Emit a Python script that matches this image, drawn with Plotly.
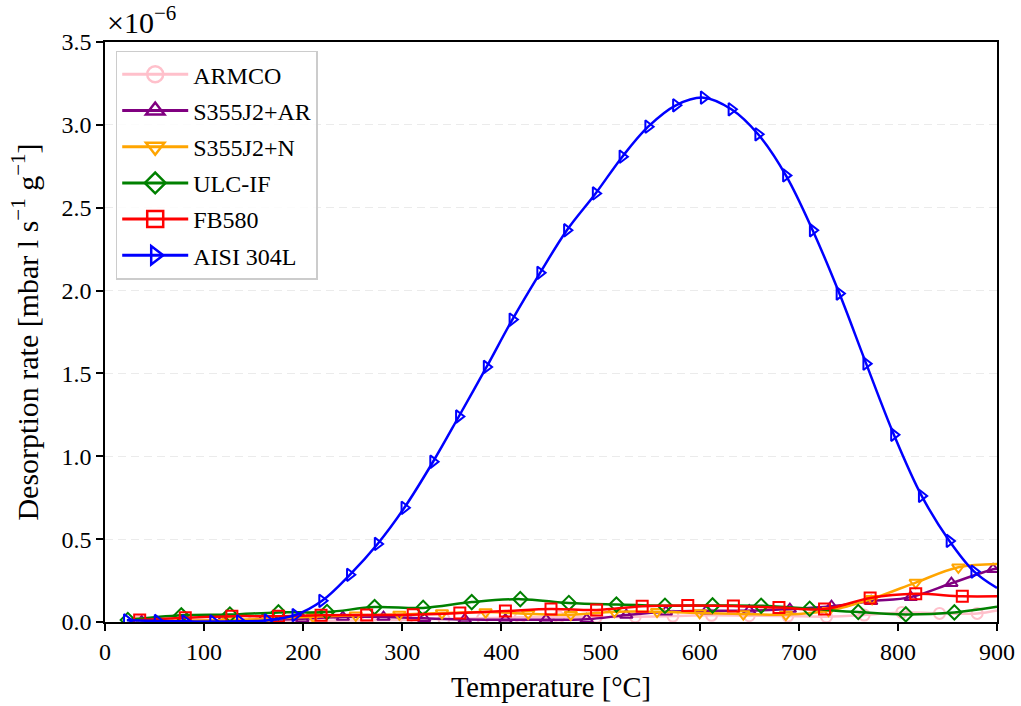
import plotly.graph_objects as go

# Thermal desorption spectra: temperature [°C] vs desorption rate [1e-6 mbar l s^-1 g^-1].
# The last sample of every sweep (900 °C) is the end of the ramp and carries no marker.

ARMCO_T = [34, 73, 111, 150, 188, 227, 265, 304, 342, 381, 419, 458, 496, 535, 573,
           612, 650, 689, 728, 766, 804, 842, 880, 900]
ARMCO_RATE = [0.002, 0.003, 0.004, 0.005, 0.006, 0.008, 0.010, 0.014, 0.018, 0.022, 0.028,
              0.030, 0.030, 0.032, 0.036, 0.040, 0.038, 0.036, 0.032, 0.042, 0.058, 0.052,
              0.052, 0.070]

S355AR_T = [37, 77, 118, 159, 199, 240, 281, 322, 363, 404, 445, 486, 526, 566, 607,
            650, 691, 733, 773, 813, 854, 896, 900]
S355AR_RATE = [0.003, 0.005, 0.008, 0.012, 0.020, 0.030, 0.030, 0.022, 0.015, 0.014, 0.014,
               0.016, 0.042, 0.062, 0.068, 0.068, 0.078, 0.095, 0.125, 0.150, 0.234, 0.318,
               0.322]

S355N_T = [37, 80, 124, 167, 210, 253, 297, 340, 384, 427, 470, 514, 557, 600, 644,
           687, 730, 774, 818, 861, 900]
S355N_RATE = [0.005, 0.008, 0.012, 0.020, 0.032, 0.040, 0.046, 0.054, 0.060, 0.050, 0.044,
              0.062, 0.062, 0.055, 0.048, 0.045, 0.068, 0.140, 0.238, 0.330, 0.350]

ULCIF_T = [23, 77, 126, 175, 224, 272, 321, 370, 419, 468, 516, 565, 613, 662, 711,
           760, 808, 857, 900]
ULCIF_RATE = [0.012, 0.040, 0.045, 0.058, 0.060, 0.090, 0.085, 0.120, 0.138, 0.115, 0.105,
              0.098, 0.100, 0.098, 0.080, 0.060, 0.046, 0.058, 0.092]

FB580_T = [35, 81, 128, 175, 218, 264, 311, 358, 404, 450, 496, 542, 588, 634, 680,
           726, 772, 818, 865, 900]
FB580_RATE = [0.012, 0.025, 0.035, 0.035, 0.040, 0.042, 0.044, 0.054, 0.066, 0.079, 0.072,
              0.095, 0.100, 0.097, 0.087, 0.078, 0.145, 0.170, 0.155, 0.155]

AISI304L_T = [22, 53, 81, 109, 136, 164, 192, 219, 247, 275, 302, 331, 357, 385, 411,
              439, 466, 495, 522, 548, 576, 604, 632, 659, 687, 714, 741, 768, 796, 824,
              852, 877, 900]
AISI304L_RATE = [0.010, 0.006, 0.004, 0.003, 0.004, 0.010, 0.042, 0.128, 0.285, 0.471,
                 0.689, 0.967, 1.240, 1.539, 1.825, 2.107, 2.364, 2.586, 2.808, 2.989,
                 3.118, 3.164, 3.094, 2.943, 2.695, 2.364, 1.982, 1.559, 1.130, 0.761,
                 0.489, 0.304, 0.205]

X_TICKS = [0, 100, 200, 300, 400, 500, 600, 700, 800, 900]
Y_TICKS = [0.0, 0.5, 1.0, 1.5, 2.0, 2.5, 3.0, 3.5]

SERIES = [
    ("ARMCO", ARMCO_T, ARMCO_RATE, "#ffc0cb", "circle-open"),
    ("S355J2+AR", S355AR_T, S355AR_RATE, "#800080", "triangle-up-open"),
    ("S355J2+N", S355N_T, S355N_RATE, "#ffa500", "triangle-down-open"),
    ("ULC-IF", ULCIF_T, ULCIF_RATE, "#008000", "diamond-open"),
    ("FB580", FB580_T, FB580_RATE, "#ff0000", "square-open"),
    ("AISI 304L", AISI304L_T, AISI304L_RATE, "#0000ff", "triangle-right-open"),
]

FONT = "Liberation Serif"

fig = go.Figure()
for name, temps, rates, color, symbol in SERIES:
    fig.add_trace(go.Scatter(
        x=temps, y=rates, mode="lines", legendgroup=name, showlegend=False,
        line=dict(color=color, width=2.5, shape="spline", smoothing=1.0),
        hoverinfo="skip",
    ))
    fig.add_trace(go.Scatter(
        x=temps[:-1], y=rates[:-1], mode="markers", legendgroup=name, showlegend=False,
        marker=dict(symbol=symbol, size=11, color=color, line=dict(color=color, width=2)),
        name=name,
    ))
    fig.add_trace(go.Scatter(
        x=[None], y=[None], mode="lines+markers", legendgroup=name, name=name,
        line=dict(color=color, width=3),
        marker=dict(symbol=symbol, size=16, color=color, line=dict(color=color, width=2.5)),
    ))

fig.add_annotation(
    x=0, y=1, xref="paper", yref="paper", xanchor="left", yanchor="bottom",
    text="×10<sup>−6</sup>", showarrow=False, yshift=1,
    font=dict(family=FONT, size=30, color="black"),
)

fig.update_layout(
    width=1021, height=706,
    margin=dict(l=105, r=24, t=42, b=84),
    paper_bgcolor="white", plot_bgcolor="white",
    font=dict(family=FONT, size=24, color="black"),
    legend=dict(
        x=0.012, y=0.985, xanchor="left", yanchor="top",
        bgcolor="rgba(255,255,255,0.85)", bordercolor="#cccccc", borderwidth=1.5,
        font=dict(family=FONT, size=24, color="black"),
        traceorder="grouped", tracegroupgap=2, itemwidth=66,
    ),
    xaxis=dict(
        range=[0, 900], tickvals=X_TICKS, ticktext=[str(v) for v in X_TICKS],
        showline=True, linecolor="black", linewidth=1.5, mirror=True,
        ticks="outside", ticklen=7, tickwidth=1.5, tickcolor="black",
        showgrid=False, zeroline=False, automargin=False,
        title=dict(text="Temperature [°C]", font=dict(family=FONT, size=28.5), standoff=14),
    ),
    yaxis=dict(
        range=[0, 3.5], tickvals=Y_TICKS, ticktext=[f"{v:.1f}" for v in Y_TICKS],
        showline=True, linecolor="black", linewidth=1.5, mirror=True,
        ticks="outside", ticklen=7, tickwidth=1.5, tickcolor="black",
        showgrid=True, gridcolor="#ebebeb", gridwidth=1, griddash="8px,5px",
        zeroline=False, automargin=False,
        title=dict(text="Desorption rate [mbar l s<sup>−1</sup> g<sup>−1</sup>]",
                   font=dict(family=FONT, size=30), standoff=14),
    ),
)

fig.write_html("out.html")
